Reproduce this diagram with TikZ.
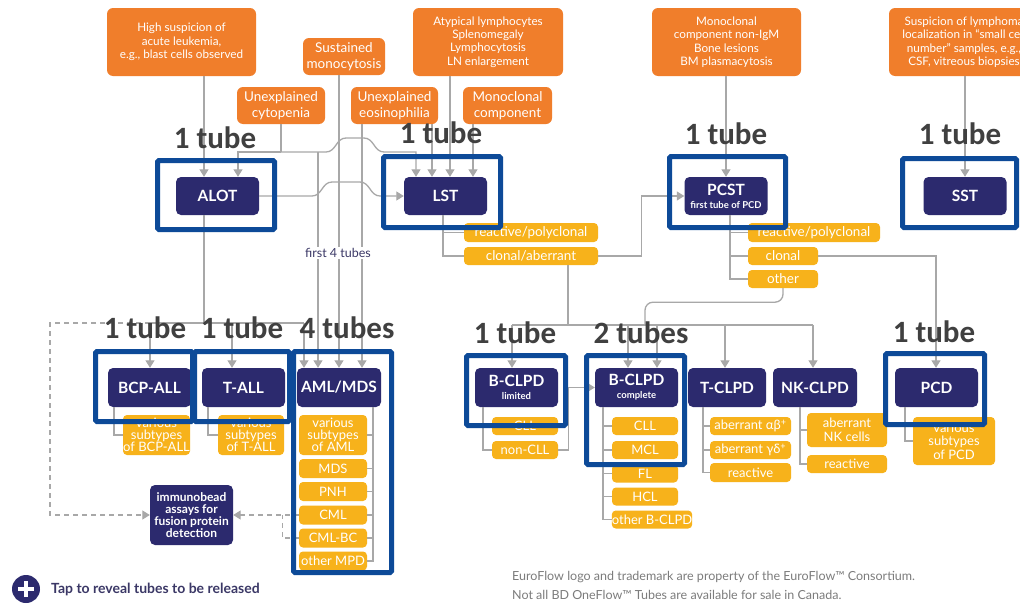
\documentclass[tikz,border=0pt]{standalone}
\usepackage{fontspec}
\setmainfont{Lato}
\newfontfamily\tubefont{Carlito}
\usetikzlibrary{arrows.meta}
\definecolor{borange}{HTML}{F07E2B}
\definecolor{bnavy}{HTML}{2C2A6E}
\definecolor{bamber}{HTML}{F7B21B}
\definecolor{hblue}{HTML}{0D4A98}
\definecolor{lgray}{HTML}{A8A8A8}
\definecolor{tgray}{HTML}{404040}
\definecolor{ftgray}{HTML}{7C7C7C}
\definecolor{lblc}{HTML}{3B3866}
\newcommand\FS[2]{\fontsize{#1}{#2}\selectfont}
\begin{document}
\begin{tikzpicture}[x=1pt,y=-1pt,
  obox/.style={fill=borange, rounded corners=6pt, text=white, align=center, inner sep=1pt},
  osmall/.style={obox, minimum width=87pt, minimum height=37pt, font=\FS{13.5}{16}},
  obig/.style={obox, minimum width=149pt, minimum height=68pt, font=\FS{11.7}{13.4}},
  nbox/.style={fill=bnavy, rounded corners=5pt, text=white, align=center, inner sep=1pt,
    minimum width=83pt, minimum height=38pt, font=\bfseries\FS{15.5}{16}},
  abox/.style={fill=bamber, rounded corners=4pt, text=white, align=center, inner sep=0pt,
    minimum width=67pt, minimum height=18pt, font=\FS{13}{12}},
  conn/.style={draw=lgray, line width=1.3pt},
  arr/.style={conn, -{Triangle[width=9pt,length=7.5pt]}},
  dconn/.style={conn, dash pattern=on 5pt off 4pt},
  darr/.style={arr, dash pattern=on 5pt off 4pt},
  hl/.style={draw=hblue, line width=5pt, rounded corners=1.5pt, inner sep=0pt},
  tube/.style={font=\tubefont\bfseries\FS{31}{31}, text=tgray, anchor=base, inner sep=0pt},
]
\useasboundingbox (0,0) rectangle (1020,605);
\clip (0,0) rectangle (1020,605);
\fill[white] (0,0) rectangle (1020,605);

% ---------- clinical indications ----------
\node[obig] (hs) at (181.5,42) {High suspicion of\\acute leukemia,\\e.g., blast cells observed};
\node[osmall, minimum width=82pt] (sm) at (344,56.5) {Sustained\\monocytosis};
\node[osmall, minimum width=88pt] (uc) at (281,105.5) {Unexplained\\cytopenia};
\node[osmall] (ue) at (394.5,105.5) {Unexplained\\eosinophilia};
\node[obig, minimum width=150pt] (al) at (488,42) {Atypical lymphocytes\\Splenomegaly\\Lymphocytosis\\LN enlargement};
\node[osmall, minimum width=89pt] (mc) at (507.5,105.5) {Monoclonal\\component};
\node[obig] (mn) at (726.5,42) {Monoclonal\\component non-IgM\\Bone lesions\\BM plasmacytosis};
\node[obig, minimum width=150pt] (sl) at (964,42) {Suspicion of lymphoma\\localization in “small cell\\number” samples, e.g.,\\CSF, vitreous biopsies};

% ---------- screening tubes ----------
\node[nbox] (alot) at (217.5,196) {ALOT};
\node[nbox] (lst) at (445.5,196) {LST};
\node[nbox] (pcst) at (726,196) {PCST\\[-3pt]{\FS{9.5}{10}first tube of PCD}};
\node[nbox] (sst) at (965,196) {SST};

% ---------- characterization panels ----------
\node[nbox, minimum height=39pt] (bcp) at (149.5,387.5) {BCP-ALL};
\node[nbox, minimum height=39pt] (tall) at (243.5,387.5) {T-ALL};
\node[nbox, minimum height=39pt, minimum width=84pt] (aml) at (339,387.5) {AML/MDS};
\node[nbox, minimum height=39pt] (bl) at (516.5,387.5) {B-CLPD\\[-3pt]{\FS{9.5}{10}limited}};
\node[nbox, minimum height=39pt] (bc) at (636.5,387.5) {B-CLPD\\[-3pt]{\FS{9.5}{10}complete}};
\node[nbox, minimum height=39pt, minimum width=78pt] (tc) at (727,387.5) {T-CLPD};
\node[nbox, minimum height=39pt, minimum width=84pt] (nk) at (815,387.5) {NK-CLPD};
\node[nbox, minimum height=39pt] (pcd) at (936.5,387.5) {PCD};
\node[nbox, minimum height=60pt, font=\bfseries\FS{12}{11.8}] (ib) at (191.5,515) {immunobead\\assays for\\fusion protein\\detection};

% ---------- outcomes ----------
\node[abox, minimum width=134pt, minimum height=19pt, font=\FS{13.5}{13}] (lr) at (531,232.5) {reactive/polyclonal};
\node[abox, minimum width=134pt, font=\FS{13.5}{13}] (lc) at (531,256) {clonal/aberrant};
\node[abox, minimum width=132pt, minimum height=19pt, font=\FS{13.5}{13}] (pr) at (814,232.5) {reactive/polyclonal};
\node[abox, minimum width=70pt, font=\FS{13.5}{13}] (pcl) at (783,256) {clonal};
\node[abox, minimum width=70pt, font=\FS{13.5}{13}] (po) at (783,279) {other};

\node[abox, minimum height=40pt] (bs) at (156.5,435) {various\\subtypes\\of BCP-ALL};
\node[abox, minimum width=66pt, minimum height=40pt] (ts) at (251,435) {various\\subtypes\\of T-ALL};
\node[abox, minimum width=68pt, minimum height=40pt] (a1) at (333,435) {various\\subtypes\\of AML};
\node[abox, minimum width=68pt, minimum height=19pt] (a2) at (333,468.5) {MDS};
\node[abox, minimum width=68pt, minimum height=19pt] (a3) at (333,491.5) {PNH};
\node[abox, minimum width=68pt, minimum height=19pt] (a4) at (333,515) {CML};
\node[abox, minimum width=68pt, minimum height=19pt] (a5) at (333,538) {CML-BC};
\node[abox, minimum width=68pt, minimum height=19pt] (a6) at (333,561) {other MPD};

\node[abox, minimum width=66pt] (bl1) at (525,426) {CLL};
\node[abox, minimum width=66pt] (bl2) at (525,450) {non-CLL};
\node[abox, minimum width=66pt] (bc1) at (645,426) {CLL};
\node[abox, minimum width=66pt] (bc2) at (645,450) {MCL};
\node[abox, minimum width=66pt] (bc3) at (645,473.5) {FL};
\node[abox, minimum width=66pt] (bc4) at (645,496.5) {HCL};
\node[abox, minimum width=80pt] (bc5) at (652,519.5) {other B-CLPD};
\node[abox, minimum width=81pt] (t1) at (750.5,426) {aberrant αβ\textsuperscript{+}};
\node[abox, minimum width=81pt] (t2) at (750.5,450) {aberrant γδ\textsuperscript{+}};
\node[abox, minimum width=81pt, minimum height=19pt] (t3) at (750.5,472.5) {reactive};
\node[abox, minimum width=80pt, minimum height=34pt, font=\FS{13}{13.5}] (n1) at (847,430) {aberrant\\NK cells};
\node[abox, minimum width=80pt] (n2) at (847,464) {reactive};
\node[abox, minimum width=82pt, minimum height=48pt, font=\FS{13}{13.5}] (ps) at (954,441) {various\\subtypes\\of PCD};

% ---------- bus levels and arrow entry points ----------
\coordinate (busU) at (0,152);
\coordinate (busA) at (0,323);
\coordinate (busC) at (0,325);
\coordinate (dleft) at (50,323);
\coordinate (alotA) at ([xshift=-13.5pt]alot.north);
\coordinate (alotB) at ([xshift=20.5pt]alot.north);
\coordinate (lstA) at ([xshift=-29.5pt]lst.north);
\coordinate (lstB) at ([xshift=-13.5pt]lst.north);
\coordinate (lstC) at ([xshift=4.5pt]lst.north);
\coordinate (lstD) at ([xshift=27.5pt]lst.north);
\coordinate (amlA) at ([xshift=-35pt]aml.north);
\coordinate (amlB) at ([xshift=-21pt]aml.north);
\coordinate (amlC) at (aml.north);
\coordinate (amlD) at ([xshift=23pt]aml.north);
\coordinate (bcpA) at ([xshift=0.5pt]bcp.north);
\coordinate (tallA) at ([xshift=-11.5pt]tall.north);
\coordinate (blA) at ([xshift=-4.5pt]bl.north);
\coordinate (bcA) at ([xshift=-8.5pt]bc.north);
\coordinate (bcB) at ([xshift=20.5pt]bc.north);
\coordinate (bcM) at ([xshift=8.5pt]bc.north);
\coordinate (tcA) at ([xshift=-2pt]tc.north);
\coordinate (nkA) at ([xshift=-2pt]nk.north);
\coordinate (pcdA) at ([xshift=-0.5pt]pcd.north);
\coordinate (ibj) at ([xshift=49pt]ib.east);

% ---------- indications to screening tubes ----------
\draw[arr] (hs.south -| alotA) -- (alotA);
\draw[conn] (uc.south) -- (uc.south |- busU);
\draw[arr] (uc.south |- busU) -| (alotB);
\draw[arr] (uc.south |- busU) -- (326,152) .. controls (336,152) and (336,138) .. (346,138)
  -- (364,138) .. controls (374,138) and (374,152) .. (384,152) -| (lstA);
\draw[arr] (amlB |- busU) -- (amlB);
\draw[arr] (sm.south -| amlC) -- (amlC);
\draw[arr] (ue.south -| amlD) -- (amlD);
\draw[arr] (ue.south -| lstB) -- (lstB);
\draw[arr] (al.south -| lstC) -- (lstC);
\draw[arr] (mc.south -| lstD) -- (lstD);
\draw[arr] (alot.east) -- (312,196) .. controls (322,196) and (322,182) .. (332,182)
  -- (360,182) .. controls (370,182) and (370,196) .. (380,196) -- (lst.west);
\draw[arr] (mn.south -| pcst.north) -- (pcst.north);
\draw[arr] (sl.south -| sst.north) -- (sst.north);

% ---------- ALOT to acute leukemia panels ----------
\draw[conn] (alot.south -| alotA) -- (alotA |- busA);
\draw[conn] (bcpA |- busA) -- (amlA |- busA);
\draw[arr] (bcpA |- busA) -- (bcpA);
\draw[arr] (tallA |- busA) -- (tallA);
\draw[arr] (amlA |- busA) -- (amlA);
\draw[darr] (bcpA |- busA) -- (dleft) |- (ib.west);
\draw[darr] (a4.west) -- (ib.east);
\draw[dconn] (a5.west) -| (ibj);

% ---------- LST and PCST outcomes ----------
\coordinate (lstT) at ([xshift=-2.5pt]lst.south);
\draw[conn] (lstT) |- (lc.west);
\draw[conn] (lstT |- lr.west) -- (lr.west);
\draw[arr] (lc.east) -- ++(43,0) |- (pcst.west);
\coordinate (lcB) at ([xshift=37pt]lc.south);
\draw[conn] (lcB) -- (lcB |- busC);
\draw[conn] (blA |- busC) -- (nkA |- busC);
\foreach \c in {blA,bcA,bcB,tcA,nkA} \draw[arr] (\c |- busC) -- (\c);
\coordinate (pcstT) at ([xshift=4pt]pcst.south);
\draw[conn] (pcstT) |- (po.west);
\draw[conn] (pcstT |- pr.west) -- (pr.west);
\draw[conn] (pcstT |- pcl.west) -- (pcl.west);
\draw[arr] (pcl.east) -| (pcdA);
\draw[conn, rounded corners=8pt] (po.south) -- ++(0,14) -| (bcM |- busC);

% ---------- panel subtypes ----------
\coordinate (bcpT) at ([xshift=-35.5pt]bcp.south);
\draw[conn] (bcpT) |- (bs.west);
\coordinate (tallT) at ([xshift=-35.5pt]tall.south);
\draw[conn] (tallT) |- (ts.west);
\coordinate (amlT) at ([xshift=34pt]aml.south);
\draw[conn] (amlT) |- (a6.east);
\foreach \n in {a1,a2,a3,a4,a5} \draw[conn] (amlT |- \n.east) -- (\n.east);
\coordinate (blT) at ([xshift=-33.5pt]bl.south);
\draw[conn] (blT) |- (bl2.west);
\draw[conn] (blT |- bl1.west) -- (bl1.west);
\draw[arr] (bl2.east) -- ++(10,0) |- (bc.west);
\coordinate (bcT) at ([xshift=-33.5pt]bc.south);
\draw[conn] (bcT) |- (bc5.west);
\foreach \n in {bc1,bc2,bc3,bc4} \draw[conn] (bcT |- \n.west) -- (\n.west);
\coordinate (tcT) at ([xshift=-24pt]tc.south);
\draw[conn] (tcT) |- (t3.west);
\foreach \n in {t1,t2} \draw[conn] (tcT |- \n.west) -- (\n.west);
\coordinate (nkT) at ([xshift=-15pt]nk.south);
\draw[conn] (nkT) |- (n2.west);
\draw[conn] (nkT |- n1.west) -- (n1.west);
\coordinate (pcdT) at ([xshift=-31.5pt]pcd.south);
\draw[conn] (pcdT) |- (ps.west);

\node[fill=white, inner sep=1.5pt, text=lblc, font=\FS{12.5}{13}] (f4t) at (338,253) {first 4 tubes};

% ---------- highlight frames ----------
\node[hl, minimum width=117pt, minimum height=69pt] (fA) at (216,195) {};
\node[hl, minimum width=117pt, minimum height=71pt] (fB) at (442,192) {};
\node[hl, minimum width=116pt, minimum height=71pt] (fC) at (727.5,192) {};
\node[hl, minimum width=114pt, minimum height=69pt] (fD) at (959.5,193) {};
\node[hl, minimum width=97pt, minimum height=70pt] (fE) at (144,386.5) {};
\node[hl, minimum width=95pt, minimum height=70pt] (fF) at (242,386.5) {};
\node[hl, minimum width=98pt, minimum height=221pt] (fG) at (342.5,462) {};
\node[hl, minimum width=99pt, minimum height=70pt] (fH) at (516,390.5) {};
\node[hl, minimum width=98pt, minimum height=109pt] (fI) at (635.5,410) {};
\node[hl, minimum width=99pt, minimum height=71pt] (fJ) at (935,389) {};

% ---------- tube counts ----------
\node[tube] (nA) at (215,148) {1 tube};
\node[tube] (nB) at (441,143) {1 tube};
\node[tube] (nC) at (726,144) {1 tube};
\node[tube] (nD) at (960,144) {1 tube};
\node[tube] (nE) at (145,338) {1 tube};
\node[tube] (nF) at (242,338) {1 tube};
\node[tube] (nG) at (347,338) {4 tubes};
\node[tube] (nH) at (515,343) {1 tube};
\node[tube] (nI) at (641,343) {2 tubes};
\node[tube] (nJ) at (934,342) {1 tube};

% ---------- footer ----------
\node[circle, fill=bnavy, minimum size=28pt, inner sep=0pt] (plus) at (26,589) {};
\draw[white, line width=3.5pt] ([xshift=-8pt]plus.center) -- ([xshift=8pt]plus.center);
\draw[white, line width=3.5pt] ([yshift=-8pt]plus.center) -- ([yshift=8pt]plus.center);
\node[anchor=west, inner sep=0pt, text=lblc, font=\bfseries\FS{14}{15}] (tap) at (51,589) {Tap to reveal tubes to be released};
\node[anchor=west, inner sep=0pt, text=ftgray, font=\FS{12.5}{14}] (ft1) at (512,577) {EuroFlow logo and trademark are property of the EuroFlow™ Consortium.};
\node[anchor=west, inner sep=0pt, text=ftgray, font=\FS{12.5}{14}] (ft2) at (512,595) {Not all BD OneFlow™ Tubes are available for sale in Canada.};
\end{tikzpicture}
\end{document}
